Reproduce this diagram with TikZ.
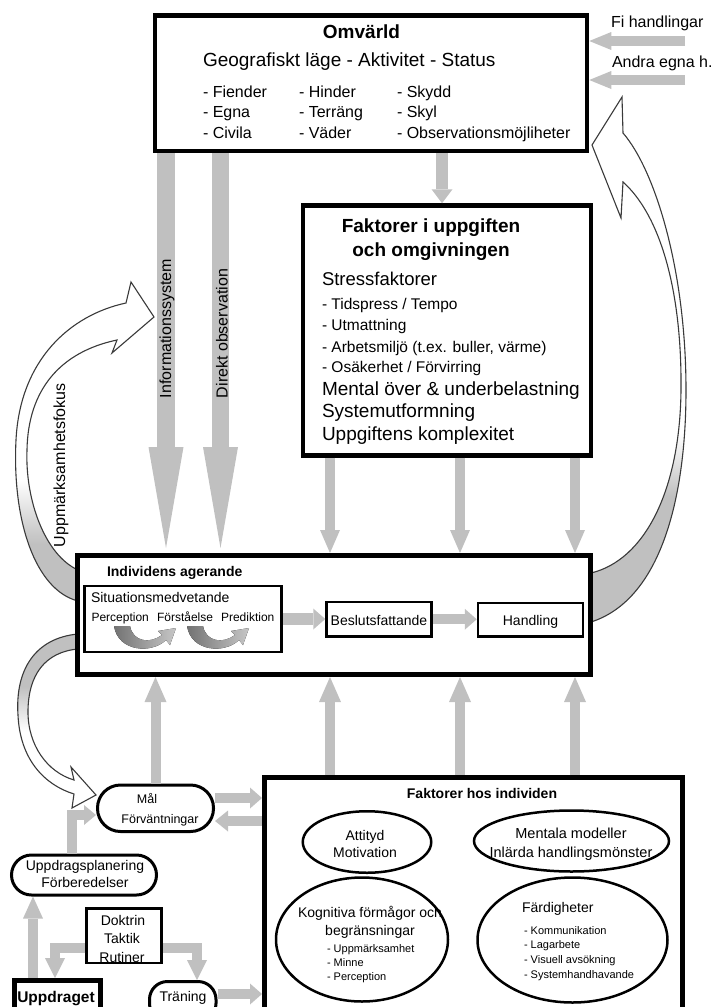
\documentclass[tikz,border=0pt]{standalone}
\usepackage{fontspec}
\setmainfont{Liberation Sans}
\usetikzlibrary{arrows.meta,shapes.geometric,calc}
\definecolor{agray}{HTML}{C0C0C0}
\definecolor{edgegray}{HTML}{3A3A3A}
\newcommand\fsz[1]{\fontsize{#1}{#1}\selectfont}
% fades for the curved block arrows (bbox maps to 25bp..75bp)
\pgfdeclareverticalshading{fadeA}{100bp}{color(0bp)=(agray); color(34bp)=(agray); color(44bp)=(white); color(100bp)=(white)}
\pgfdeclareverticalshading{fadeB}{100bp}{color(0bp)=(white); color(47bp)=(white); color(60bp)=(agray); color(100bp)=(agray)}
\pgfdeclareverticalshading{fadeC}{100bp}{color(0bp)=(agray); color(37bp)=(agray); color(43bp)=(white); color(100bp)=(white)}
\begin{document}
\begin{tikzpicture}[x=1pt,y=-1pt,
  txt/.style={inner sep=0pt, outer sep=0pt},
  bx/.style={draw, line width=#1, inner sep=0pt},
  rbx/.style={draw, line width=3pt, inner sep=0pt, rounded corners=#1},
  ell/.style={draw, ellipse, line width=2.5pt, inner sep=0pt},
  garrow/.style n args={3}{draw=agray, line width=#1, -{Triangle[length=#2,width=#3,line width=0pt]}},
  curv/.style={draw=edgegray, line width=1.1pt, line join=miter},
  flow/.style={left color=black!55, right color=black!22},
]
\useasboundingbox (0,0) rectangle (712,1007);
\clip (0,0) rectangle (712,1007);

% ---------- curved block arrows ----------
% attention focus: from the acting individual up to the information channels
\path[curv, shading=fadeA] (78,601) .. controls (35,590) and (12,520) .. (16,440)
  .. controls (20,360) and (70,315) .. (126,303) -- (131,282) -- (154,317) -- (112,353) -- (117,340)
  .. controls (60,352) and (28,390) .. (27,450) .. controls (25,500) and (45,555) .. (78,570) -- cycle;
% feedback from the acting individual down to the goals
\path[curv, shading=fadeB] (78,634) .. controls (35,638) and (15,670) .. (18,715)
  .. controls (20,760) and (45,785) .. (74,794) -- (72,808) -- (96,795) -- (71,767) -- (74,780)
  .. controls (47,772) and (28,745) .. (28,712) .. controls (28,675) and (45,652) .. (78,649) -- cycle;
% action back into the surroundings
\path[curv, shading=fadeC] (591,622) .. controls (660,600) and (686,500) .. (686,390)
  .. controls (686,270) and (655,170) .. (623,133) -- (622,97) -- (592,145) -- (621,218) -- (623,182)
  .. controls (660,215) and (682,290) .. (681,390) .. controls (680,490) and (645,560) .. (591,573) -- cycle;

% ---------- boxes ----------
\node[bx=4.5pt, minimum width=432, minimum height=135.5] (omv) at (371,83.25) {};
\node[bx=4.5pt, minimum width=288, minimum height=250] (fak) at (447,330.5) {};
\node[bx=5pt, minimum width=513, minimum height=119] (ind) at (334,615) {};
\node[bx=2.5pt, minimum width=197, minimum height=66] (sit) at (183,619) {};
\node[bx=2.5pt, minimum width=105, minimum height=34.5] (bes) at (379,619.25) {};
\node[bx=2.5pt, minimum width=105, minimum height=33.5] (han) at (530.5,619.75) {};
\node[bx=5pt, minimum width=418, minimum height=250] (hos) at (473.5,902.5) {};
\node[rbx=23pt, minimum width=116, minimum height=46.5] (mal) at (155.5,808.25) {};
\node[rbx=20pt, minimum width=145, minimum height=40] (upp) at (84,875) {};
\node[bx=2.5pt, minimum width=75, minimum height=54.5] (dok) at (124,935.75) {};
\node[bx=5pt, minimum width=86, minimum height=50] (uppdr) at (57.5,1005.5) {};
\node[rbx=18pt, minimum width=66.5, minimum height=40] (tra) at (182.75,1001.5) {};
\node[ell, minimum width=128.5, minimum height=61.5] (att) at (367,842) {};
\node[ell, minimum width=195, minimum height=61] (men) at (571.5,841) {};
\node[ell, minimum width=172, minimum height=124] (kog) at (362,939.5) {};
\node[ell, minimum width=190, minimum height=125] (fard) at (572.5,940) {};

% ---------- texts ----------
\node[txt, font=\bfseries\fsz{19}, anchor=base] at (361.5,38) {Omvärld};
\node[txt, font=\fsz{19}, anchor=base west] at (203,66) {Geografiskt läge - Aktivitet - Status};
\begin{scope}[every node/.style={txt, font=\fsz{16}, anchor=base west}]
  \node at (203,97) {- Fiender};
  \node at (203,117.5) {- Egna};
  \node at (203,138) {- Civila};
  \node at (299,97) {- Hinder};
  \node at (299,117.5) {- Terräng};
  \node at (299,138) {- Väder};
  \node at (397,97) {- Skydd};
  \node at (397,117.5) {- Skyl};
  \node at (397,138) {- Observationsmöjliheter};
  \node (fiT) at (611,27) {Fi handlingar};
  \node (anT) at (612,67) {Andra egna h.};
\end{scope}

\node[txt, font=\bfseries\fsz{19}, anchor=base] at (431,232) {Faktorer i uppgiften};
\node[txt, font=\bfseries\fsz{19}, anchor=base] at (431,256) {och omgivningen};
\node[txt, font=\fsz{18.5}, anchor=base west] at (322,285) {Stressfaktorer};
\begin{scope}[every node/.style={txt, font=\fsz{15.5}, anchor=base west}]
  \node at (322,309) {- Tidspress / Tempo};
  \node at (322,330) {- Utmattning};
  \node at (322,352) {- Arbetsmiljö (t.ex. buller, värme)};
  \node at (322,372) {- Osäkerhet / Förvirring};
\end{scope}
\begin{scope}[every node/.style={txt, font=\fsz{19}, anchor=base west}]
  \node at (322,395) {Mental över \& underbelastning};
  \node at (322,417) {Systemutformning};
  \node at (322,440) {Uppgiftens komplexitet};
\end{scope}

\node[txt, font=\bfseries\fsz{14}, anchor=base west] at (107,576) {Individens agerande};
\node[txt, font=\fsz{14}, anchor=base west] at (91,602) {Situationsmedvetande};
\begin{scope}[every node/.style={txt, font=\fsz{12}, anchor=base west}]
  \node at (91.5,621) {Perception};
  \node at (157,621) {Förståelse};
  \node at (221,621) {Prediktion};
\end{scope}
\node[txt, font=\fsz{14}, anchor=base] at (379,625) {Beslutsfattande};
\node[txt, font=\fsz{14}, anchor=base] at (530.5,625) {Handling};

\node[txt, font=\fsz{12.5}, anchor=base] at (147,803) {Mål};
\node[txt, font=\fsz{12.5}, anchor=base] at (160,823) {Förväntningar};
\node[txt, font=\fsz{14}, anchor=base] at (85,870) {Uppdragsplanering};
\node[txt, font=\fsz{14}, anchor=base] at (85,887) {Förberedelser};
\node[txt, font=\fsz{14}, anchor=base] at (123,925) {Doktrin};
\node[txt, font=\fsz{14}, anchor=base] at (122,943) {Taktik};
\node[txt, font=\fsz{14}, anchor=base] at (122,962) {Rutiner};
\node[txt, font=\bfseries\fsz{15.5}, anchor=base] at (56,1002) {Uppdraget};
\node[txt, font=\fsz{14}, anchor=base] at (183,1001) {Träning};

\node[txt, font=\bfseries\fsz{14}, anchor=base] at (482,798) {Faktorer hos individen};
\node[txt, font=\fsz{14}, anchor=base] at (365,840) {Attityd};
\node[txt, font=\fsz{14}, anchor=base] at (365,857) {Motivation};
\node[txt, font=\fsz{14.5}, anchor=base] at (571,838) {Mentala modeller};
\node[txt, font=\fsz{14.5}, anchor=base] at (571,857) {Inlärda handlingsmönster};
\node[txt, font=\fsz{14}, anchor=base] at (370,917) {Kognitiva förmågor och};
\node[txt, font=\fsz{14}, anchor=base] at (370,935) {begränsningar};
\node[txt, font=\fsz{14}, anchor=base west] at (522,912) {Färdigheter};
\begin{scope}[every node/.style={txt, font=\fsz{11}, anchor=base west}]
  \node at (327,952) {- Uppmärksamhet};
  \node at (327,966) {- Minne};
  \node at (327,980) {- Perception};
  \node at (524,934) {- Kommunikation};
  \node at (524,948) {- Lagarbete};
  \node at (524,963) {- Visuell avsökning};
  \node at (524,978) {- Systemhandhavande};
\end{scope}

% ---------- straight connectors ----------
\coordinate (xA) at (330,0);
\coordinate (xB) at (460,0);
\coordinate (xC) at (575,0);
\coordinate (xT) at (442,0);
\coordinate (fiS) at (685,41);
\coordinate (anS) at (685,80);
\coordinate (infoEnd) at (166,548);
\coordinate (dirEnd) at (220.5,548);
\coordinate (yGo) at (0,798);
\coordinate (yBack) at (0,821);
\coordinate (yTra) at (0,994);
\coordinate (yDok) at (0,948);
\coordinate (xDl) at (55,0);
\coordinate (xDr) at (197,0);
\coordinate (xUp) at (33,0);
\coordinate (xPl) at (72,0);
\coordinate (yPl) at (0,815);

% information channels
\draw[garrow={18pt}{101pt}{35pt}] (omv.south -| infoEnd) -- (infoEnd);
\draw[garrow={17.5pt}{101pt}{35pt}] (omv.south -| dirEnd) -- (dirEnd);
\node[txt, font=\fsz{16}, rotate=90, anchor=base west] at (171,398) {Informationssystem};
\node[txt, font=\fsz{16}, rotate=90, anchor=base west] at (227.5,398) {Direkt observation};
\node[txt, font=\fsz{16}, rotate=90, anchor=base west] at (65,547) {Uppmärksamhetsfokus};

% inputs to the surroundings
\draw[garrow={10pt}{22pt}{18pt}] (fiS) -- (omv.east |- fiS);
\draw[garrow={10pt}{22pt}{18pt}] (anS) -- (omv.east |- anS);
\draw[garrow={12pt}{14pt}{21pt}] (omv.south -| xT) -- (fak.north -| xT);

% task factors down, individual factors up
\foreach \c in {xA,xB,xC}{
  \draw[garrow={10pt}{23pt}{20pt}] (fak.south -| \c) -- (ind.north -| \c);
  \draw[garrow={10pt}{25pt}{22pt}] (hos.north -| \c) -- (ind.south -| \c);
}
\draw[garrow={10pt}{25pt}{22pt}] (mal.north) -- (ind.south -| mal.north);

% inside the acting individual
\draw[garrow={12pt}{12pt}{21pt}] (sit.east) -- (bes.west |- sit.east);
\draw[garrow={10pt}{12pt}{21pt}] (bes.east) -- (han.west |- bes.east);
\fill[flow] (114,626) .. controls (118,652) and (152,654) .. (166,640) -- (170,645) -- (176,628) -- (158,631) -- (162,635) .. controls (150,644) and (133,642) .. (130,626) -- cycle;
\begin{scope}[xshift=73pt]
\fill[flow] (114,626) .. controls (118,652) and (152,654) .. (166,640) -- (170,645) -- (176,628) -- (158,631) -- (162,635) .. controls (150,644) and (133,642) .. (130,626) -- cycle;
\end{scope}

% goals and individual factors
\draw[garrow={10pt}{12pt}{21pt}] (mal.east |- yGo) -- (hos.west |- yGo);
\draw[garrow={10pt}{13pt}{21pt}] (hos.west |- yBack) -- (mal.east |- yBack);
\draw[garrow={10pt}{12pt}{21pt}] (tra.east |- yTra) -- (hos.west |- yTra);

% mission, planning, doctrine
\draw[garrow={10pt}{22pt}{20pt}] (uppdr.north -| xUp) -- (upp.south -| xUp);
\draw[garrow={10pt}{12pt}{20pt}] (upp.north -| xPl) |- (mal.west |- yPl);
\draw[garrow={10pt}{20pt}{20pt}] (dok.west |- yDok) -| (uppdr.north -| xDl);
\draw[garrow={10pt}{20pt}{20pt}] (dok.east |- yDok) -| (tra.north -| xDr);
\end{tikzpicture}
\end{document}
